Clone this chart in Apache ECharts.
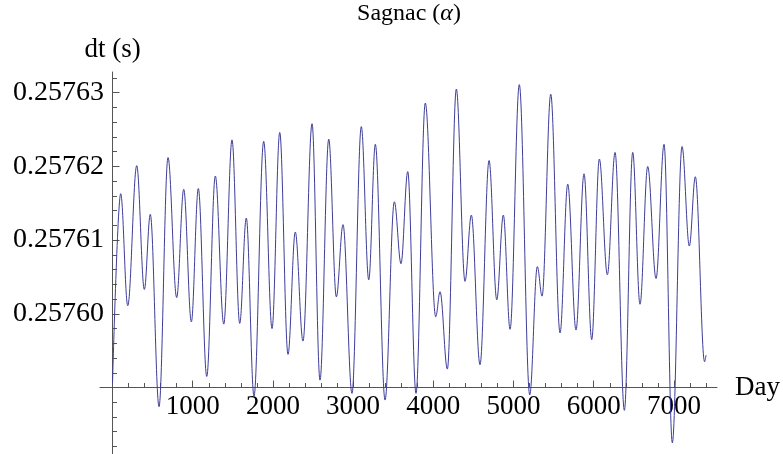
<!DOCTYPE html>
<html><head><meta charset="utf-8">
<script src="https://cdn.jsdelivr.net/npm/echarts@6/dist/echarts.min.js"></script>
<style>html,body{margin:0;padding:0;background:#fff}#c{width:783px;height:454px}</style>
</head><body><div id="c"></div>
<script>
const BASE = 0.25759;
const days = [0,102,190,302,397,471,580,692,800,888,983,1070,1175,1282,1387,1490,1586,1668,1764,1885,1989,2085,2188,2279,2375,2488,2587,2696,2791,2874,2986,3102,3195,3277,3398,3514,3597,3681,3784,3900,4030,4084,4175,4287,4395,4474,4582,4695,4791,4873,4957,5072,5202,5297,5356,5464,5580,5676,5779,5879,5975,6070,6170,6266,6382,6486,6577,6673,6777,6877,6980,7101,7192,7267,7382,7400];
const dt = [0.2575906,0.2576163,0.2576011,0.2576201,0.2576033,0.2576135,0.2575874,0.2576212,0.2576022,0.2576169,0.2575989,0.2576170,0.2575915,0.2576187,0.2575986,0.2576236,0.2575987,0.2576130,0.2575888,0.2576234,0.2575980,0.2576246,0.2575945,0.2576111,0.2575963,0.2576258,0.2575910,0.2576237,0.2576023,0.2576121,0.2575892,0.2576254,0.2576046,0.2576230,0.2575883,0.2576152,0.2576068,0.2576193,0.2575892,0.2576286,0.2575996,0.2576030,0.2575925,0.2576305,0.2576044,0.2576134,0.2575931,0.2576208,0.2576019,0.2576134,0.2575979,0.2576311,0.2575890,0.2576064,0.2576024,0.2576298,0.2575974,0.2576176,0.2575978,0.2576190,0.2575965,0.2576210,0.2576053,0.2576219,0.2575869,0.2576219,0.2576013,0.2576200,0.2576048,0.2576230,0.2575825,0.2576227,0.2576092,0.2576186,0.2575935,0.2575944];
const xTickLabels = [1000,2000,3000,4000,5000,6000,7000];
const yTickLabels = [0.25760,0.25761,0.25762,0.25763];
const titleText = 'Sagnac';
const titleSymbol = 'α';
const xName = 'Day';
const yName = 'dt (s)';

const U = v => (v - BASE) * 1e5;
const seriesData = days.map((d, i) => [d, U(dt[i])]);
const X_MIN = -156, X_MAX = 7537;
const Y_MIN = U(0.25758098), Y_MAX = U(0.25763281);

const xMinor = [];
for (let v = 200; v <= 7400; v += 200) if (v % 1000 !== 0) xMinor.push(v);
const yMinor = [];
for (let k = -4; k <= 21; k++) if (k % 5 !== 0) yMinor.push(k * 0.2);

const axisColor = '#555';
const font = 'Liberation Serif';
const labelStyle = {color: '#000', fontFamily: font, fontSize: 27, lineHeight: 27};

function xAxisCfg(ticks, len, main) {
  return {
    type: 'value', min: X_MIN, max: X_MAX, position: 'bottom',
    axisLine: {show: true, onZero: true, onZeroAxisIndex: 0, lineStyle: {color: main ? axisColor : 'rgba(0,0,0,0)', width: 1}},
    axisTick: {show: true, inside: true, length: len, customValues: ticks, lineStyle: {color: axisColor, width: 1}},
    axisLabel: main ? Object.assign({show: true, customValues: ticks, margin: -60.5, formatter: v => String(Math.round(v))}, labelStyle) : {show: false},
    splitLine: {show: false},
    name: main ? xName : '', nameLocation: 'end', nameGap: 18,
    nameTextStyle: Object.assign({align: 'left', verticalAlign: 'middle', padding: [0, 0, 7, 0]}, labelStyle)
  };
}
function yAxisCfg(ticks, len, main) {
  return {
    type: 'value', min: Y_MIN, max: Y_MAX, position: 'left',
    axisLine: {show: true, onZero: true, onZeroAxisIndex: 0, lineStyle: {color: main ? axisColor : 'rgba(0,0,0,0)', width: 1}},
    axisTick: {show: true, inside: true, length: len, customValues: ticks, lineStyle: {color: axisColor, width: 1}},
    axisLabel: main ? Object.assign({show: true, customValues: ticks, margin: -4,
      formatter: v => (BASE + v * 1e-5).toFixed(5)}, labelStyle, {fontSize: 28, lineHeight: 28}) : {show: false},
    splitLine: {show: false},
    name: main ? yName : '', nameLocation: 'end', nameGap: 9,
    nameTextStyle: Object.assign({align: 'center', verticalAlign: 'bottom'}, labelStyle)
  };
}

const chart = echarts.init(document.getElementById('c'), null, {renderer: 'canvas'});
chart.setOption({
  animation: false,
  backgroundColor: '#fff',
  title: {
    text: '{n|' + titleText + ' (}{a|' + titleSymbol + '}{n|)}',
    left: 409, top: 2, padding: 0, textAlign: 'center',
    textStyle: {color: '#000', fontFamily: font, fontSize: 24, fontWeight: 'normal', lineHeight: 24,
      rich: {n: {fontFamily: font, fontSize: 24, color: '#000', lineHeight: 24},
             a: {fontFamily: font, fontSize: 24, fontStyle: 'italic', color: '#000', lineHeight: 24}}}
  },
  grid: {left: 100, right: 66, top: 72, bottom: 0, containLabel: false, outerBoundsMode: 'none'},
  xAxis: [xAxisCfg(xTickLabels, 7, true), xAxisCfg(xMinor, 4.5, false)],
  yAxis: [yAxisCfg(yTickLabels.map(U), 7, true), yAxisCfg(yMinor, 4.5, false)],
  series: [{
    type: 'line', data: seriesData, showSymbol: false, smooth: 0.36, smoothMonotone: 'x',
    lineStyle: {color: '#3d3d99', width: 1}, clip: true
  }]
});
</script></body></html>
